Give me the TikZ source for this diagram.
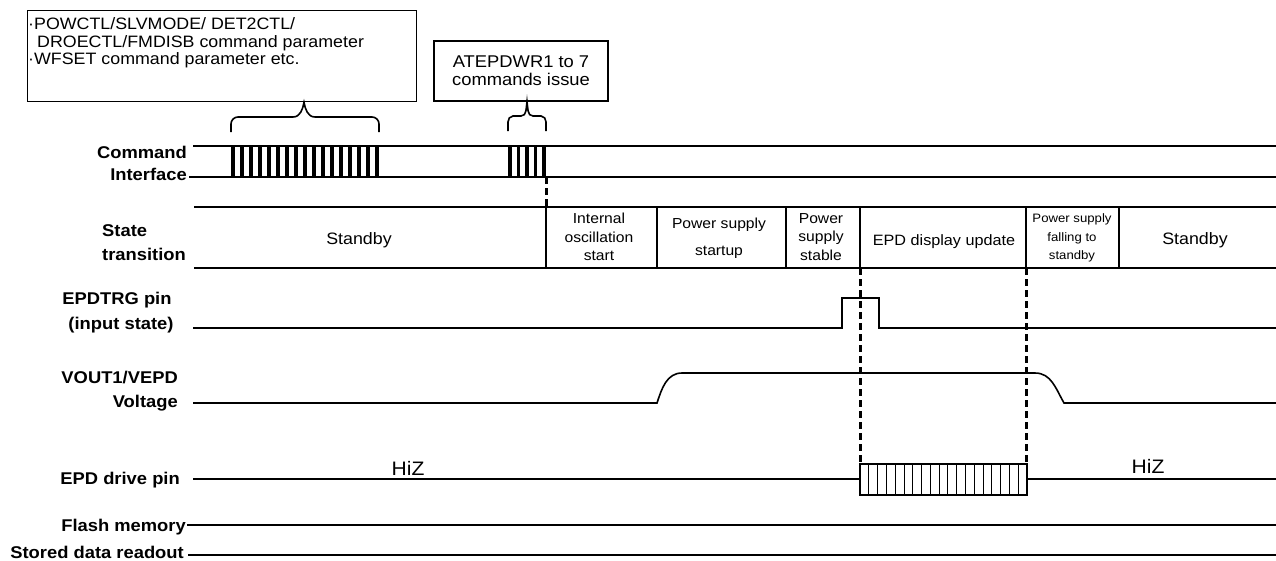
\documentclass[tikz,border=0pt]{standalone}
\usepackage{fontspec}
\setmainfont{Liberation Sans}[FakeStretch=1.08]
\usetikzlibrary{positioning}
\tikzset{
  sig/.style={line width=1.6pt},
  note/.style={draw,line width=1.3pt,inner sep=0pt},
  lbl/.style={font=\fontsize{17}{22}\selectfont\bfseries,inner sep=0pt},
  phase/.style={font=\fontsize{14.5}{18.5}\selectfont,align=center,inner sep=0pt},
  guide/.style={line width=3pt,dash pattern=on 7pt off 4pt},
  hiz/.style={font=\fontsize{19.5}{22}\selectfont,inner sep=0pt}
}
\begin{document}
\begin{tikzpicture}[x=1pt,y=-1pt]
\useasboundingbox (0,0) rectangle (1276,560);
% notes above the command interface
\node[note,minimum width=389pt,minimum height=91pt,anchor=north west] (parbox) at (27,10) {};
\node[anchor=base west,inner sep=0pt,font=\fontsize{16.5}{17.5}\selectfont] (par1) at (28,29) {·POWCTL/SLVMODE/ DET2CTL/};
\node[anchor=base west,inner sep=0pt,font=\fontsize{16.5}{17.5}\selectfont] (par2) at (37,47) {DROECTL/FMDISB command parameter};
\node[anchor=base west,inner sep=0pt,font=\fontsize{16.5}{17.5}\selectfont] (par3) at (28,64) {·WFSET command parameter etc.};
\node[note,minimum width=174pt,minimum height=60pt,align=center,font=\fontsize{17}{18}\selectfont] (wrbox) at (521,71) {ATEPDWR1 to 7\\commands issue};
\draw[sig] (231,132) -- (231,124) to[out=90,in=180] (238,117) -- (293,117) to[out=0,in=-100] (parbox.south -| 304,0) to[out=-80,in=180] (315,117) -- (372,117) to[out=0,in=90] (379,124) -- (379,132);
\draw[sig] (508,131) -- (508,122) to[out=90,in=180] (513,116) -- (521,116) to[out=0,in=-100] (wrbox.south -| 527,0) to[out=-80,in=180] (533,116) -- (541,116) to[out=0,in=90] (546,122) -- (546,131);
% labels
\node[lbl,align=right,anchor=east] (lblcmd) at (187,163) {Command\\Interface};
\node[lbl,align=left,anchor=west,font=\fontsize{17}{24}\selectfont\bfseries] (lblstate) at (102,243) {State\\transition};
\node[lbl,align=center,font=\fontsize{17}{25}\selectfont\bfseries] (lbltrg) at (117,313) {EPDTRG pin\\\hspace*{8pt}(input state)};
\node[lbl,align=right,anchor=east,font=\fontsize{17}{24}\selectfont\bfseries] (lblvout) at (178,391) {VOUT1/VEPD\\Voltage};
\node[lbl,anchor=east] (lbldrv) at (180,480) {EPD drive pin};
\node[lbl,anchor=east] (lblflash) at (186,527) {Flash memory};
\node[lbl,anchor=east] (lblread) at (184,552) {Stored data readout};
% command interface
\draw[sig] (193,146) -- (1276,146);
\draw[sig] (189,177) -- (1276,177);
\foreach \i in {0,...,16} \draw[line width=4pt] ({233+9*\i},146) -- ++(0,31);
\foreach \i in {0,...,4} \draw[line width=3.5pt] ({510+8.5*\i},146) -- ++(0,31);
% state transition
\draw[sig] (194,207) -- (1276,207);
\draw[sig] (194,268) -- (1276,268);
\foreach \x in {546,657,786,860,1026,1119} \draw[sig] (\x,207) -- (\x,268);
\node[phase,font=\fontsize{16.5}{18}\selectfont] (stby1) at (359,240) {Standby};
\node[phase] (osc) at (599,237) {Internal\\oscillation\\start};
\node[phase,font=\fontsize{14.5}{27}\selectfont] (pwrup) at (719,238) {Power supply\\startup};
\node[phase] (pwrok) at (821,237) {Power\\supply\\stable};
\node[phase,font=\fontsize{15}{18}\selectfont] (upd) at (944,242) {EPD display update};
\node[phase,font=\fontsize{12.2}{18.5}\selectfont] (pwrdn) at (1072,238) {Power supply\\falling to\\standby};
\node[phase,font=\fontsize{16.5}{18}\selectfont] (stby2) at (1195,240) {Standby};
% EPDTRG pin
\draw[sig] (193,328) -- (842,328) -- (842,298) -- (879,298) -- (879,328) -- (1276,328);
% VOUT1/VEPD
\draw[sig] (193,403) -- (657,403) to[out=72,in=180] (682,373) -- (1035,373) to[out=0,in=120] (1064,403) -- (1276,403);
% EPD drive pin
\draw[sig] (193,479) -- (860,479);
\draw[sig] (1027,479) -- (1276,479);
\draw[sig] (860,464) rectangle (1027,495);
\foreach \i in {1,...,18} \draw[line width=0.9pt] ({860+8.79*\i},464) -- ++(0,31);
\node[hiz] (hiz1) at (408,468) {HiZ};
\node[hiz] (hiz2) at (1148,466) {HiZ};
% flash memory
\draw[sig] (187,525) -- (1276,525);
\draw[line width=2.2pt] (188,555) -- (1276,555);
% timing guides
\draw[guide] (546,177) -- (546,207);
\draw[guide] (860,268) -- (860,464);
\draw[guide] (1026,268) -- (1026,464);
\end{tikzpicture}
\end{document}
